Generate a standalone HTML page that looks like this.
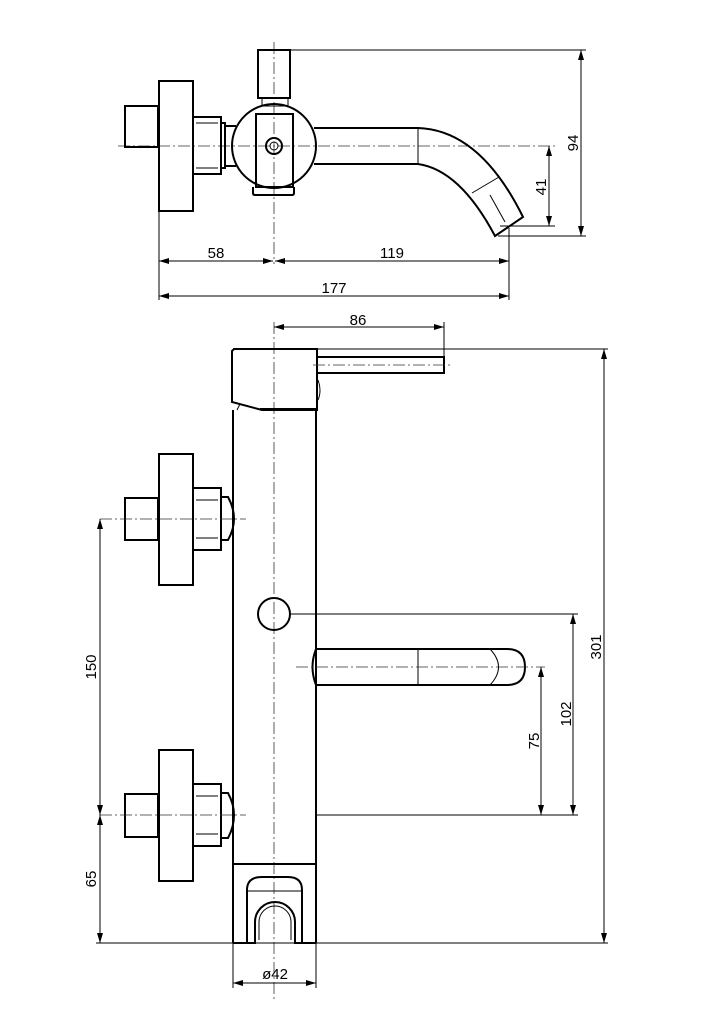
<!DOCTYPE html>
<html><head><meta charset="utf-8"><style>
html,body{margin:0;padding:0;background:#fff;}
svg{display:block;}
text{font-family:"Liberation Sans",sans-serif;font-size:15px;fill:#000;}
.m{stroke:#000;stroke-width:2;fill:none;}
.t{stroke:#000;stroke-width:1;fill:none;}
.c{stroke:#333;stroke-width:0.8;fill:none;stroke-dasharray:12 3 2 3;}
.a{fill:#000;stroke:none;}
</style></head><body>
<svg width="723" height="1024" viewBox="0 0 723 1024" xmlns="http://www.w3.org/2000/svg">
<defs>
<marker id="ar" viewBox="0 0 10 6" refX="10" refY="3" markerWidth="10" markerHeight="6" orient="auto-start-reverse" markerUnits="userSpaceOnUse"><path d="M0,0 L10,3 L0,6z" fill="#000"/></marker>
</defs>

<!-- ===== TOP VIEW ===== -->
<line class="c" x1="274" y1="42" x2="274" y2="264"/>
<line class="c" x1="118" y1="146" x2="555" y2="146"/>
<!-- lever -->
<rect class="m" x="258" y="50" width="32" height="48"/>
<rect class="t" x="262" y="98" width="26" height="8"/>
<!-- body circle -->
<circle class="m" cx="274" cy="146" r="42"/>
<rect class="m" x="256" y="114" width="37" height="73"/>
<path class="m" d="M253,187 L253,193 Q253,195 255,195 L292,195 Q294,195 294,193 L294,187"/>
<circle class="m" cx="274" cy="146" r="8"/>
<circle class="t" cx="274" cy="146" r="4"/>
<!-- left knob -->
<rect class="m" x="125" y="106" width="33" height="41"/>
<rect class="m" x="159" y="81" width="34" height="130"/>
<rect class="m" x="193" y="117" width="28" height="57"/>
<line class="t" x1="196" y1="123" x2="218" y2="123"/><line class="t" x1="196" y1="168" x2="218" y2="168"/>
<rect class="m" x="221" y="123" width="4" height="45"/>
<line class="m" x1="225" y1="126" x2="236" y2="126"/><line class="m" x1="225" y1="166" x2="236" y2="166"/>
<!-- spout -->
<path class="m" d="M314,128 L418,128 Q480,130 523,217 L495,236 Q460,170 418,164 L314,164"/>
<line class="t" x1="418" y1="128" x2="418" y2="164"/>
<line class="t" x1="472" y1="193" x2="499" y2="177"/>
<line class="t" x1="490" y1="195" x2="505" y2="222"/>
<!-- dims top -->
<line class="t" x1="290" y1="50" x2="586" y2="50"/>
<line class="t" x1="498" y1="236" x2="586" y2="236"/>
<line class="t" x1="581" y1="50" x2="581" y2="236" marker-start="url(#ar)" marker-end="url(#ar)"/>
<text transform="translate(578,143) rotate(-90)" text-anchor="middle">94</text>
<line class="t" x1="500" y1="226" x2="555" y2="226"/>
<line class="t" x1="549" y1="146" x2="549" y2="226" marker-start="url(#ar)" marker-end="url(#ar)"/>
<text transform="translate(546,187) rotate(-90)" text-anchor="middle">41</text>
<line class="t" x1="159" y1="211" x2="159" y2="300"/>
<line class="t" x1="509" y1="228" x2="509" y2="300"/>
<line class="t" x1="159" y1="261" x2="273" y2="261" marker-start="url(#ar)" marker-end="url(#ar)"/>
<line class="t" x1="275" y1="261" x2="509" y2="261" marker-start="url(#ar)" marker-end="url(#ar)"/>
<line class="t" x1="159" y1="296" x2="509" y2="296" marker-start="url(#ar)" marker-end="url(#ar)"/>
<text x="216" y="258" text-anchor="middle">58</text>
<text x="392" y="258" text-anchor="middle">119</text>
<text x="334" y="293" text-anchor="middle">177</text>

<!-- ===== SIDE VIEW ===== -->
<line class="c" x1="274" y1="322" x2="274" y2="1002"/>
<!-- 86 dim -->
<line class="t" x1="274" y1="327" x2="444" y2="327" marker-start="url(#ar)" marker-end="url(#ar)"/>
<line class="t" x1="444" y1="322" x2="444" y2="357"/>
<text x="358" y="325" text-anchor="middle">86</text>
<!-- head -->
<path class="m" d="M234,349 L317,349 L317,410 L262,410 L232,402 L232,351 Z"/>
<line class="t" x1="240" y1="404" x2="237" y2="410"/>
<line class="m" x1="260" y1="409" x2="317" y2="409"/>
<rect class="m" x="317" y="357" width="127" height="16"/>
<line class="c" x1="313" y1="365" x2="450" y2="365"/>
<path class="t" d="M318,380 Q322,391 318,400"/>
<line class="t" x1="317" y1="349" x2="608" y2="349"/>
<!-- body -->
<line class="m" x1="233" y1="410" x2="233" y2="943"/>
<line class="m" x1="316" y1="410" x2="316" y2="943"/>
<line class="m" x1="233" y1="864" x2="316" y2="864"/>
<!-- circle -->
<circle class="m" cx="274" cy="614" r="16"/>
<line class="t" x1="290" y1="614" x2="578" y2="614"/>
<!-- spout -->
<path class="m" d="M316,649 L507,649 Q525,649 525,667 Q525,685 507,685 L316,685"/>
<path class="m" d="M316,649 Q309,667 316,685"/>
<line class="t" x1="418" y1="649" x2="418" y2="685"/>
<path class="t" d="M490,649 Q507,667 490,685"/>
<line class="c" x1="296" y1="667" x2="545" y2="667"/>
<!-- valves -->
<g>
<rect class="m" x="125" y="498" width="33" height="42"/>
<rect class="m" x="159" y="454" width="34" height="131"/>
<rect class="m" x="193" y="488" width="28" height="62"/>
<line class="t" x1="196" y1="500" x2="218" y2="500"/><line class="t" x1="196" y1="538" x2="218" y2="538"/>
<path class="m" d="M221,497 L228,497 Q240,519 228,540 L221,540 Z"/>
<line class="c" x1="100" y1="519" x2="246" y2="519"/>
</g>
<g>
<rect class="m" x="125" y="794" width="33" height="43"/>
<rect class="m" x="159" y="750" width="34" height="131"/>
<rect class="m" x="193" y="784" width="28" height="62"/>
<line class="t" x1="196" y1="796" x2="218" y2="796"/><line class="t" x1="196" y1="834" x2="218" y2="834"/>
<path class="m" d="M221,793 L228,793 Q240,815 228,838 L221,838 Z"/>
<line class="c" x1="100" y1="815" x2="246" y2="815"/>
</g>
<!-- bracket -->
<path class="m" d="M233,943 L255,943 L255,922 A20,20 0 0 1 295,922 L295,943 L316,943"/>
<path class="t" d="M259,940 L259,922 A16,16 0 0 1 291,922 L291,940"/>
<path class="m" d="M247,943 L247,890 Q247,877 262,877 L288,877 Q302,877 302,890 L302,943"/>
<line class="t" x1="247" y1="891" x2="302" y2="891"/>
<!-- dims side -->
<line class="t" x1="316" y1="815" x2="578" y2="815"/>
<line class="t" x1="96" y1="943" x2="608" y2="943"/>
<line class="t" x1="541" y1="667" x2="541" y2="815" marker-start="url(#ar)" marker-end="url(#ar)"/>
<line class="t" x1="573" y1="614" x2="573" y2="815" marker-start="url(#ar)" marker-end="url(#ar)"/>
<line class="t" x1="604" y1="349" x2="604" y2="943" marker-start="url(#ar)" marker-end="url(#ar)"/>
<text transform="translate(539,741) rotate(-90)" text-anchor="middle">75</text>
<text transform="translate(571,714) rotate(-90)" text-anchor="middle">102</text>
<text transform="translate(601,647) rotate(-90)" text-anchor="middle">301</text>
<line class="t" x1="100" y1="519" x2="100" y2="815" marker-start="url(#ar)" marker-end="url(#ar)"/>
<line class="t" x1="100" y1="815" x2="100" y2="943" marker-start="url(#ar)" marker-end="url(#ar)"/>
<text transform="translate(96,667) rotate(-90)" text-anchor="middle">150</text>
<text transform="translate(96,879) rotate(-90)" text-anchor="middle">65</text>
<line class="t" x1="233" y1="943" x2="233" y2="988"/>
<line class="t" x1="316" y1="943" x2="316" y2="988"/>
<line class="t" x1="233" y1="983" x2="316" y2="983" marker-start="url(#ar)" marker-end="url(#ar)"/>
<text x="275" y="979" text-anchor="middle">ø42</text>
</svg>
</body></html>
